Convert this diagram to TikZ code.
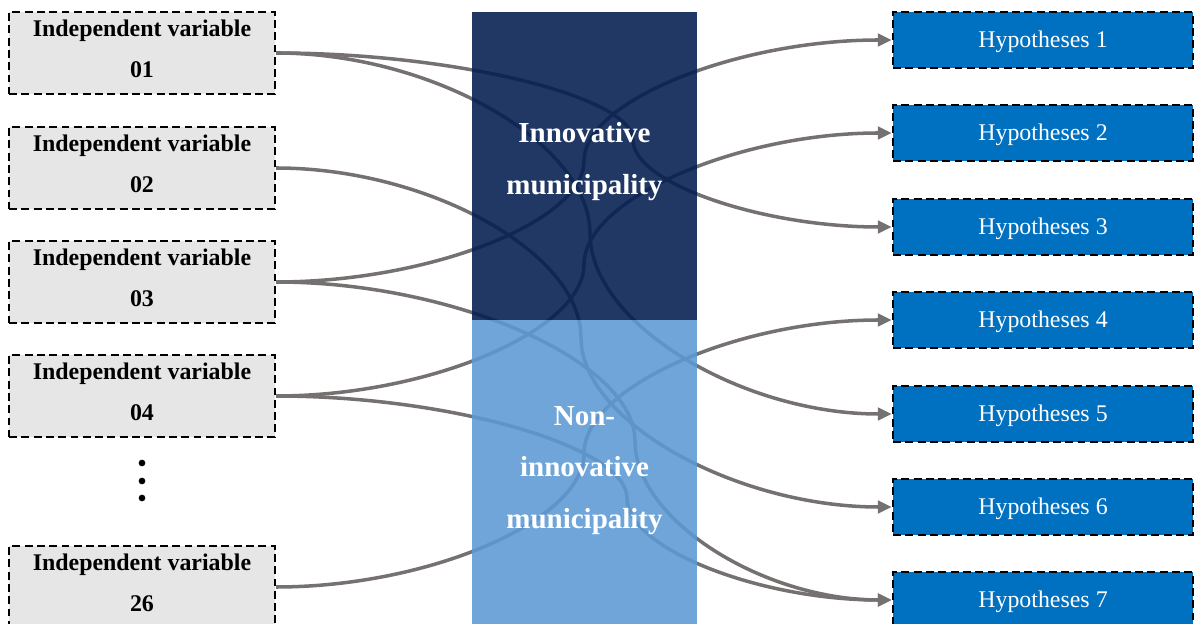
\documentclass[tikz,border=0pt]{standalone}
\usepackage{fontspec}
\setmainfont{Liberation Serif}
\usetikzlibrary{arrows.meta}
\definecolor{ivgray}{RGB}{231,230,230}
\definecolor{conngray}{RGB}{118,113,113}
\definecolor{darkmun}{RGB}{2,29,79}
\definecolor{lightmun}{RGB}{91,153,211}
\definecolor{hypblue}{RGB}{0,112,192}
\tikzset{
  ivbox/.style={draw=black, line width=1.3pt, dash pattern=on 4.5pt off 2.5pt, fill=ivgray,
    minimum width=5.32cm, minimum height=1.64cm, inner sep=0pt, text depth=4.5pt,
    align=center, font=\fontsize{13.6}{23.2}\selectfont\bfseries},
  hypbox/.style={draw=black, line width=1.3pt, dash pattern=on 4.5pt off 2.5pt, fill=hypblue,
    minimum width=6cm, minimum height=1.12cm, inner sep=0pt, text=white,
    text height=11.5pt, text depth=3pt,
    font=\fontsize{13.6}{16}\selectfont},
  munrect/.style={fill opacity=0.88, draw=none},
  muntext/.style={text=white, align=center, font=\fontsize{16.5}{29.3}\selectfont\bfseries},
  conn/.style={draw=conngray, line width=2pt, -{Triangle[length=8pt,width=7pt]}},
  dotmark/.style={circle, fill=black, inner sep=0pt, minimum size=3.8pt}
}
\begin{document}
\begin{tikzpicture}[x=0.02cm,y=-0.02cm]
\useasboundingbox (0,0) rectangle (1194,624);
\clip (0,0) rectangle (1194,624);
% left boxes
\node[ivbox] (iv1) at (142,53) {Independent variable\\01};
\node[ivbox] (iv2) at (142,168) {Independent variable\\02};
\node[ivbox] (iv3) at (142,282) {Independent variable\\03};
\node[ivbox] (iv4) at (142,396) {Independent variable\\04};
\node[ivbox] (iv26) at (142,587) {Independent variable\\26};
\node[dotmark] (d1) at (142,463) {};
\node[dotmark] (d2) at (142,481) {};
\node[dotmark] (d3) at (142,498) {};
% right boxes
\node[hypbox] (h1) at (1043,40) {Hypotheses 1};
\node[hypbox] (h2) at (1043,133) {Hypotheses 2};
\node[hypbox] (h3) at (1043,227) {Hypotheses 3};
\node[hypbox] (h4) at (1043,320) {Hypotheses 4};
\node[hypbox] (h5) at (1043,414) {Hypotheses 5};
\node[hypbox] (h6) at (1043,507) {Hypotheses 6};
\node[hypbox] (h7) at (1043,600) {Hypotheses 7};
% connectors
\draw[conn] (iv1.east) .. controls (454,53) and (633,96.5) .. (633,140) .. controls (633,183.5) and (763,227) .. (h3.west);
\draw[conn] (iv1.east) .. controls (432.5,53) and (590,143.25) .. (590,233.5) .. controls (590,323.75) and (741.5,414) .. (h5.west);
\draw[conn] (iv2.east) .. controls (428,168) and (581,252.75) .. (581,337.5) .. controls (581,422.25) and (737,507) .. (h6.west);
\draw[conn] (iv3.east) .. controls (429.5,282) and (584,221.5) .. (584,161) .. controls (584,100.5) and (738.5,40) .. (h1.west);
\draw[conn] (iv3.east) .. controls (455,282) and (635,361.5) .. (635,441) .. controls (635,520.5) and (764,600) .. (h7.west);
\draw[conn] (iv4.east) .. controls (429.5,396) and (584,330.25) .. (584,264.5) .. controls (584,198.75) and (738.5,133) .. (h2.west);
\draw[conn] (iv4.east) .. controls (451,396) and (627,447) .. (627,498) .. controls (627,549) and (760,600) .. (h7.west);
\draw[conn] (iv26.east) .. controls (429.5,587) and (584,520.25) .. (584,453.5) .. controls (584,386.75) and (738.5,320) .. (h4.west);
% middle rectangles
\fill[munrect, darkmun] (472,12) rectangle (697,320);
\fill[munrect, lightmun] (472,320) rectangle (697,630);
\node[muntext] (inn) at (584.5,161.5) {Innovative\\municipality};
\node[muntext] (noninn) at (584.5,470.5) {Non-\\innovative\\municipality};
\end{tikzpicture}
\end{document}
